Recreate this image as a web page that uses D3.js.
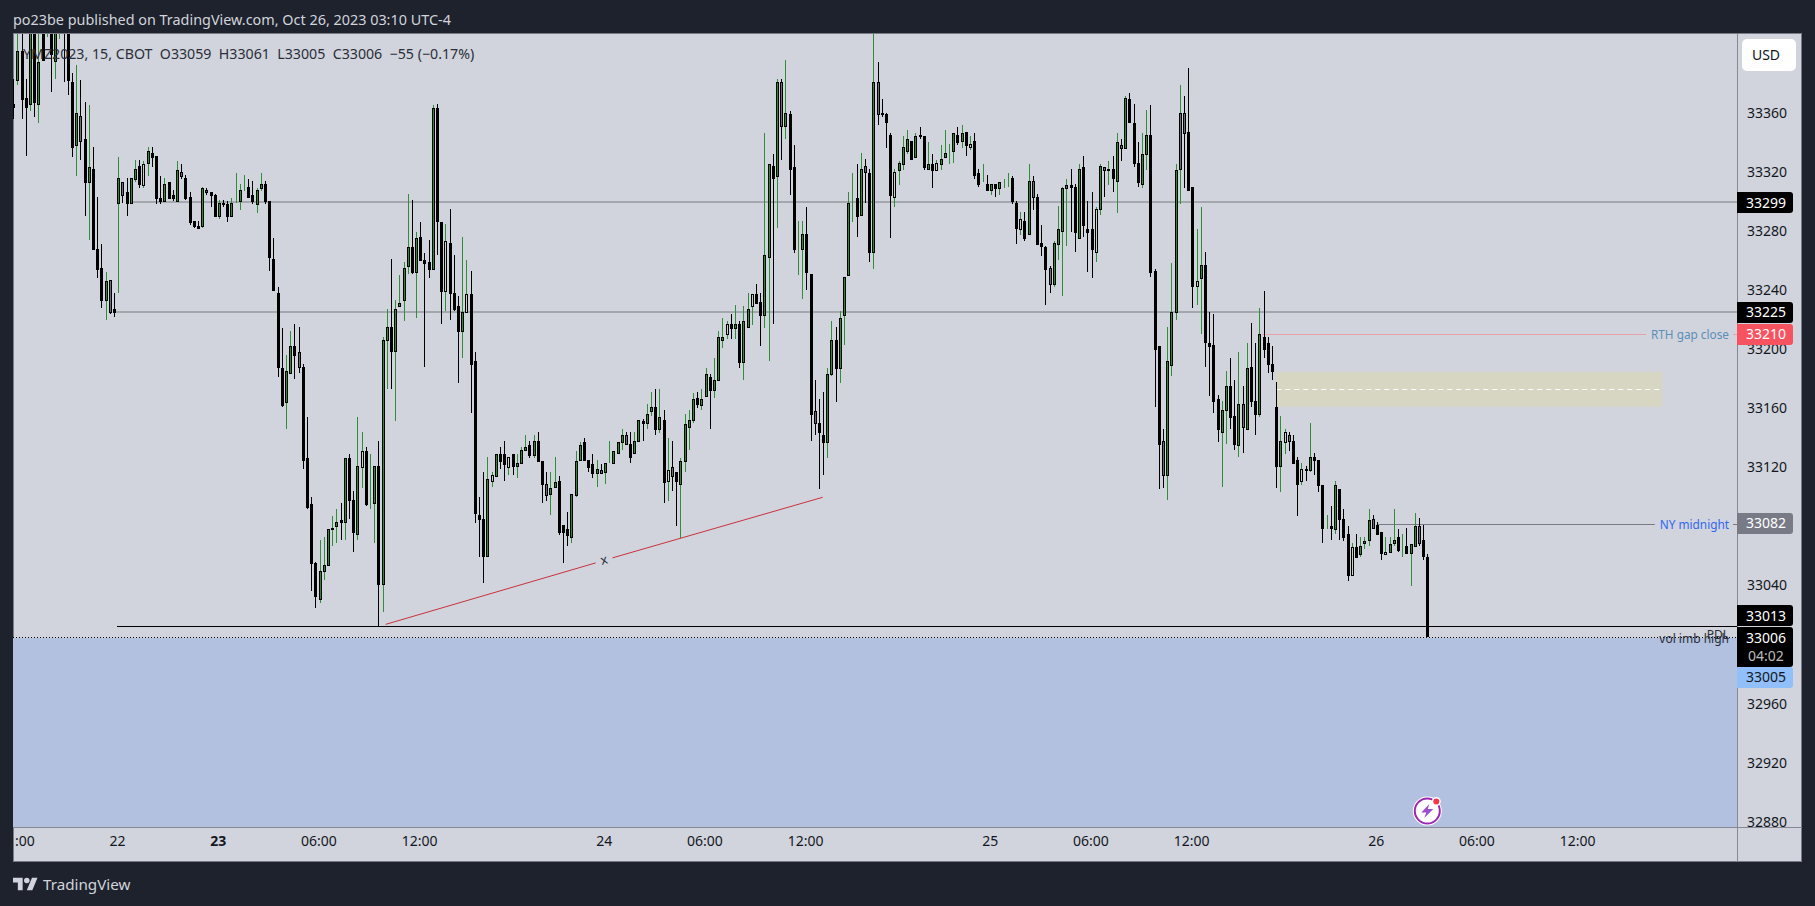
<!DOCTYPE html>
<html lang="en">
<head>
<meta charset="UTF-8">
<title>YMZ2023 15</title>
<script src="https://d3js.org/d3.v7.min.js"></script>
<style>
  html, body { margin: 0; padding: 0; background: #1e222d; overflow: hidden; }
  svg { display: block; font-family: "Noto Sans", sans-serif; }
  text { white-space: pre; }
</style>
</head>
<body>
<script>
// 15 minute bars, index 0 is the one cut by the left edge of the pane
const opens = [
33366,33382,33402,33370,33366,33425,33366,33430,33420,33425,
33395,33422,33440,33430,33381,33338,33358,33342,33313,33322,
33268,33255,33233,33247,33227,33299,33313,33306,33299,33315,
33324,33311,33326,33333,33331,33302,33300,33313,33304,33300,
33320,33316,33303,33287,33283,33283,33308,33306,33304,33290,
33299,33298,33290,33299,33300,33309,33310,33304,33298,33309,
33312,33300,33261,33238,33187,33164,33184,33202,33198,33188,
33126,33095,33055,33031,33050,33054,33078,33080,33084,33083,
33126,33098,33075,33120,33131,33097,33096,33121,33041,33206,
33215,33199,33229,33233,33256,33269,33252,33276,33260,33259,
33254,33363,33286,33239,33272,33238,33229,33212,33225,33237,
33192,33088,33085,33060,33111,33114,33129,33129,33120,33129,
33121,33123,33132,33135,33128,33138,33124,33109,33102,33107,
33111,33081,33078,33073,33101,33125,33137,33125,33122,33116,
33118,33117,33123,33123,33130,33137,33142,33136,33130,33138,
33151,33150,33158,33161,33146,33152,33111,33120,33117,33109,
33124,33147,33152,33167,33162,33168,33181,33172,33179,33206,
33210,33217,33214,33217,33191,33215,33229,33237,33232,33223,
33262,33324,33317,33381,33351,33359,33323,33269,33268,33278,
33251,33158,33150,33142,33137,33183,33206,33187,33223,33250,
33300,33302,33291,33324,33319,33266,33381,33360,33359,33345,
33303,33321,33325,33334,33341,33330,33345,33344,33322,33325,
33321,33325,33330,33334,33334,33345,33341,33347,33337,33341,
33319,33313,33312,33308,33312,33309,33313,33315,33316,33299,
33281,33287,33278,33314,33303,33272,33269,33255,33244,33271,
33280,33309,33311,33310,33275,33323,33281,33281,33266,33295,
33323,33321,33322,33314,33338,33336,33369,33353,33326,33312,
33332,33345,33253,33202,33138,33115,33189,33225,33322,33360,
33347,33310,33243,33248,33257,33204,33203,33166,33144,33159,
33175,33155,33135,33163,33146,33188,33165,33156,33208,33204,
33190,33161,33121,33137,33142,33138,33125,33111,33119,33118,
33127,33125,33108,33080,33080,33078,33105,33085,33075,33047,
33066,33061,33069,33071,33085,33081,33076,33061,33063,33069,
33073,33065,33067,33062,33067,33080,33071,33059];

const highs = [
33383,33425,33420,33383,33428,33430,33415,33435,33440,33432,
33435,33440,33445,33435,33387,33392,33382,33367,33365,33337,
33303,33271,33252,33247,33238,33330,33313,33316,33316,33328,
33328,33327,33337,33337,33331,33317,33316,33313,33308,33327,
33325,33318,33306,33287,33287,33310,33309,33306,33305,33301,
33301,33300,33302,33319,33312,33318,33315,33314,33309,33319,
33314,33300,33275,33242,33214,33196,33212,33217,33215,33190,
33154,33100,33056,33071,33073,33078,33087,33092,33096,33126,
33129,33104,33154,33144,33134,33129,33121,33138,33208,33227,
33261,33233,33250,33259,33305,33301,33279,33286,33265,33274,
33365,33366,33286,33285,33295,33264,33236,33276,33260,33253,
33198,33100,33117,33127,33117,33129,33134,33138,33127,33129,
33129,33134,33142,33138,33142,33144,33124,33117,33117,33127,
33114,33081,33090,33102,33131,33137,33140,33125,33129,33125,
33122,33123,33138,33131,33137,33146,33144,33144,33144,33152,
33153,33163,33171,33173,33173,33159,33140,33138,33117,33126,
33156,33159,33170,33171,33173,33187,33183,33194,33212,33221,
33219,33224,33230,33219,33229,33238,33237,33244,33238,33346,
33325,33332,33383,33383,33396,33361,33338,33287,33287,33296,
33251,33179,33166,33171,33187,33219,33215,33226,33249,33306,
33319,33325,33333,33329,33322,33415,33394,33369,33360,33346,
33322,33327,33344,33348,33341,33346,33350,33344,33340,33332,
33328,33338,33348,33339,33346,33350,33352,33347,33344,33346,
33322,33325,33318,33312,33312,33313,33315,33319,33317,33300,
33293,33293,33325,33317,33305,33284,33270,33256,33273,33297,
33310,33315,33322,33312,33325,33331,33300,33306,33296,33325,
33323,33327,33331,33346,33342,33371,33373,33366,33340,33346,
33362,33365,33254,33202,33146,33215,33258,33325,33379,33371,
33390,33310,33281,33296,33266,33225,33224,33169,33165,33185,
33194,33179,33198,33175,33204,33218,33204,33228,33239,33208,
33202,33178,33155,33146,33144,33142,33127,33123,33121,33150,
33130,33125,33108,33088,33094,33111,33105,33092,33080,33069,
33075,33073,33073,33092,33088,33083,33076,33073,33073,33092,
33078,33075,33079,33068,33089,33086,33081,33061];

const lows = [
33356,33379,33356,33331,33361,33357,33353,33395,33411,33374,
33383,33410,33381,33372,33330,33317,33328,33290,33274,33267,
33248,33228,33220,33224,33222,33238,33299,33290,33299,33313,
33309,33309,33317,33323,33298,33298,33300,33302,33300,33300,
33315,33301,33284,33282,33282,33282,33304,33296,33290,33288,
33296,33286,33290,33299,33294,33307,33303,33298,33292,33307,
33298,33253,33240,33181,33161,33146,33184,33180,33184,33119,
33092,33036,33025,33028,33044,33053,33067,33069,33071,33071,
33085,33063,33071,33106,33094,33092,33069,33012,33022,33173,
33173,33151,33229,33219,33251,33251,33221,33260,33188,33248,
33254,33264,33217,33226,33220,33226,33177,33194,33225,33157,
33082,33059,33042,33059,33107,33114,33119,33111,33115,33115,
33113,33123,33132,33126,33126,33124,33096,33097,33088,33107,
33074,33055,33067,33069,33100,33125,33125,33117,33113,33107,
33116,33109,33123,33122,33130,33132,33136,33123,33130,33138,
33138,33146,33155,33142,33143,33096,33097,33104,33080,33072,
33117,33132,33150,33160,33159,33168,33146,33167,33179,33201,
33207,33207,33207,33187,33179,33214,33216,33231,33202,33214,
33192,33217,33282,33328,33342,33304,33265,33250,33234,33240,
33138,33142,33105,33115,33126,33182,33164,33177,33203,33250,
33286,33276,33291,33299,33259,33254,33352,33357,33336,33275,
33296,33311,33321,33332,33329,33330,33342,33321,33321,33309,
33321,33321,33330,33325,33326,33338,33336,33331,33335,33315,
33310,33313,33307,33304,33303,33304,33309,33310,33298,33271,
33277,33273,33278,33294,33271,33263,33230,33238,33242,33260,
33236,33270,33279,33266,33275,33276,33252,33248,33259,33291,
33303,33311,33306,33292,33327,33336,33354,33323,33310,33309,
33321,33249,33161,33105,33106,33098,33182,33220,33298,33309,
33307,33228,33230,33210,33188,33168,33157,33137,33107,33136,
33146,33132,33127,33130,33145,33161,33142,33154,33194,33184,
33179,33106,33103,33129,33131,33123,33087,33108,33111,33117,
33115,33103,33069,33078,33071,33075,33071,33070,33043,33047,
33059,33059,33065,33067,33078,33074,33057,33061,33062,33067,
33063,33059,33061,33040,33067,33067,33057,33005];

const closes = [
33364,33402,33369,33364,33418,33367,33394,33396,33435,33400,
33425,33435,33418,33382,33337,33360,33341,33313,33323,33268,
33254,33233,33246,33225,33225,33316,33304,33299,33316,33322,
33312,33325,33334,33330,33302,33300,33312,33302,33302,33321,
33317,33302,33286,33283,33282,33309,33306,33304,33290,33299,
33298,33290,33299,33299,33308,33309,33303,33300,33308,33312,
33300,33262,33240,33188,33162,33185,33202,33196,33188,33125,
33093,33055,33033,33050,33054,33078,33079,33083,33083,33126,
33098,33076,33121,33131,33095,33097,33121,33041,33206,33215,
33199,33227,33231,33255,33269,33252,33275,33260,33258,33254,
33363,33287,33239,33273,33238,33227,33212,33225,33237,33190,
33089,33085,33060,33112,33115,33129,33124,33122,33127,33121,
33123,33132,33134,33128,33138,33124,33109,33101,33106,33110,
33076,33076,33074,33102,33124,33135,33125,33120,33116,33119,
33116,33123,33123,33131,33137,33142,33136,33127,33138,33152,
33150,33156,33161,33146,33154,33110,33118,33114,33111,33124,
33149,33152,33166,33163,33166,33183,33172,33179,33208,33208,
33217,33214,33217,33191,33219,33227,33237,33231,33223,33264,
33325,33316,33381,33351,33360,33322,33268,33269,33278,33252,
33156,33150,33144,33137,33183,33206,33187,33221,33249,33299,
33300,33290,33322,33320,33266,33381,33359,33359,33354,33304,
33320,33326,33337,33342,33329,33344,33344,33323,33325,33321,
33326,33329,33333,33334,33346,33340,33346,33338,33339,33318,
33312,33313,33308,33312,33309,33313,33313,33315,33300,33282,
33288,33275,33314,33303,33271,33270,33254,33244,33272,33281,
33309,33311,33310,33279,33322,33284,33279,33268,33295,33324,
33321,33322,33316,33340,33336,33370,33354,33326,33313,33332,
33345,33252,33200,33136,33115,33192,33225,33321,33360,33346,
33308,33243,33246,33257,33205,33202,33165,33146,33159,33175,
33154,33136,33163,33147,33187,33165,33156,33210,33200,33190,
33185,33121,33138,33144,33138,33123,33109,33119,33118,33127,
33125,33108,33079,33080,33079,33108,33085,33073,33047,33066,
33059,33067,33070,33084,33079,33075,33062,33063,33068,33071,
33064,33065,33062,33068,33080,33069,33060,33006];

// bars whose body is painted differently on the chart
const paleBars = [31,83,103,108,114,118,156,170,176,210,220,228,240,258,282,303,307,319,327];
const greyBars = [16,23,26,40,46,68,127,140,146,157,183,191,203,206,243,247,251,260,261,264,274,278,279,293,304,324,335];

// time axis
const timeTickBars = [1,25,49,73,97,141,165,189,233,257,281,325,349,373];
const timeTickLabels = ['18:00','22','23','06:00','12:00','24','06:00','12:00','25','06:00','12:00','26','06:00','12:00'];
const priceTicks = [33360,33320,33280,33240,33200,33160,33120,33080,33040,33000,32960,32920,32880];

// horizontal levels
const levelPrices = [33299.5,33225.4,33210,33081.7,33012.5];
const levelStartBars = [28,24,297.6,325,24.6];
const levelColors = ['#a5a7ae','#a5a7ae','#e9a0a8','#787b86','#000000'];
const levelWidths = [2,2,1,1,1];
const levelNames = ['','','RTH gap close','NY midnight',''];
const levelNameColors = ['','','#5a8fb8','#2f66f5',''];

// tags on the price scale, the last ones are pushed apart by the scale
const tagTexts = ['33299','33225','33210','33082','33013','33006','33005'];
const tagAnchors = [33299,33225,33210,33082,33019.5,33004.5,32978];
const tagColors = ['#000000','#000000','#f7525f','#787b86','#000000','#000000','#90bff9'];
const tagTextColors = ['#ffffff','#ffffff','#ffffff','#ffffff','#ffffff','#ffffff','#131722'];

// drawings
const lastPrice = 33006;
const zoneTop = 33184.5, zoneBottom = 33161, zoneMid = 33173;
const zoneBars = [301, 393];
const trendBars = [88.75, 138.8, 142.8, 192.9];
const trendPrices = [33013.7, 33055.3, 33058.7, 33099.7];

const width = 1815, height = 906;
const paneLeft = 13, paneRight = 1737, paneTop = 34, paneBottom = 827, frameRight = 1802, frameBottom = 862;
const uiFont = '"Noto Sans", sans-serif';

const x = d3.scaleLinear().domain([0, 337]).range([13.3, 1427.3]);
const y = d3.scaleLinear().domain([33360, 32880]).range([112.7, 821.9]);
const px = v => Math.round(x(v)) + 0.5;
const py = v => Math.round(y(v));

const svg = d3.select('body').append('svg').attr('width', width).attr('height', height);

const defs = svg.append('defs');
defs.append('clipPath').attr('id', 'pane').append('rect')
  .attr('x', paneLeft).attr('y', paneTop).attr('width', paneRight - paneLeft).attr('height', paneBottom - paneTop);
defs.append('clipPath').attr('id', 'priceClip').append('rect')
  .attr('x', paneRight).attr('y', paneTop).attr('width', frameRight - paneRight).attr('height', paneBottom - paneTop);
defs.append('clipPath').attr('id', 'timeClip').append('rect')
  .attr('x', paneLeft + 2).attr('y', paneBottom).attr('width', paneRight - paneLeft).attr('height', frameBottom - paneBottom);

// frame
svg.append('rect').attr('x', paneLeft + 0.5).attr('y', paneTop - 0.5)
  .attr('width', frameRight - paneLeft - 1).attr('height', frameBottom - paneTop)
  .attr('fill', '#d1d4dc').attr('stroke', '#787b86');

svg.append('text').attr('x', 13).attr('y', 25).attr('fill', '#d1d4dc').attr('font-size', 14.4)
  .text('po23be published on TradingView.com, Oct 26, 2023 03:10 UTC-4');

const pane = svg.append('g').attr('clip-path', 'url(#pane)');

// blue zone below the last price
pane.append('rect').attr('x', paneLeft).attr('width', paneRight - paneLeft)
  .attr('y', py(lastPrice) + 2).attr('height', paneBottom - y(lastPrice))
  .attr('fill', '#b2c1df');

// levels
const lv = levelPrices.map((p, i) => i);
const levelY = i => levelWidths[i] === 2 ? py(levelPrices[i]) : py(levelPrices[i]) + 0.5;
pane.selectAll('line.level').data(lv).join('line').attr('class', 'level')
  .attr('x1', i => x(levelStartBars[i])).attr('x2', paneRight)
  .attr('y1', levelY).attr('y2', levelY)
  .attr('stroke', i => levelColors[i]).attr('stroke-width', i => levelWidths[i])
  .attr('shape-rendering', 'crispEdges');

// yellow zone
pane.append('rect').attr('x', x(zoneBars[0])).attr('width', x(zoneBars[1]) - x(zoneBars[0]))
  .attr('y', y(zoneTop)).attr('height', y(zoneBottom) - y(zoneTop)).attr('fill', '#d6d6c2');
pane.append('line').attr('x1', x(zoneBars[0])).attr('x2', x(zoneBars[1]))
  .attr('y1', py(zoneMid) + 0.5).attr('y2', py(zoneMid) + 0.5)
  .attr('stroke', '#ffffff').attr('stroke-dasharray', '5 4');

// trend line, broken around its x label
[[0, 1], [2, 3]].forEach(s => {
  pane.append('line')
    .attr('x1', x(trendBars[s[0]])).attr('y1', y(trendPrices[s[0]]))
    .attr('x2', x(trendBars[s[1]])).attr('y2', y(trendPrices[s[1]]))
    .attr('stroke', '#c9323c').attr('stroke-width', 1);
});
pane.append('text')
  .attr('x', x(140.8)).attr('y', y(33057))
  .attr('dy', '0.3em').attr('text-anchor', 'middle').attr('font-size', 13).attr('fill', '#2a2e39')
  .attr('transform', `rotate(-15 ${x(140.8)} ${y(33057)})`).text('x');

// candles
const bars = svg.append('g').attr('clip-path', 'url(#pane)');
const idx = d3.range(opens.length);
const isUp = i => closes[i] >= opens[i];
const bodyFill = i => {
  if (paleBars.includes(i)) return '#c5d3bf';
  if (greyBars.includes(i)) return '#6a6d72';
  return isUp(i) ? '#24902c' : '#000000';
};

bars.selectAll('line.wick').data(idx).join('line').attr('class', 'wick')
  .attr('x1', px).attr('x2', px)
  .attr('y1', i => py(highs[i])).attr('y2', i => py(lows[i]))
  .attr('stroke', i => isUp(i) ? '#2f8f35' : '#000000')
  .attr('shape-rendering', 'crispEdges');

bars.selectAll('rect.body').data(idx).join('rect').attr('class', 'body')
  .attr('x', i => px(i) - 1).attr('width', 2)
  .attr('y', i => py(Math.max(opens[i], closes[i])) + 0.5)
  .attr('height', i => py(Math.min(opens[i], closes[i])) - py(Math.max(opens[i], closes[i])))
  .attr('fill', bodyFill).attr('stroke', '#000000')
  .attr('shape-rendering', 'crispEdges');

// last price dotted line
svg.append('line').attr('x1', paneLeft).attr('x2', paneRight)
  .attr('y1', py(lastPrice) + 1.5).attr('y2', py(lastPrice) + 1.5)
  .attr('stroke', '#000000').attr('stroke-dasharray', '1 2');

// names on the levels, the line is cut around them
levelNames.forEach((name, i) => {
  if (!name) return;
  const yy = py(levelPrices[i]) + 0.5;
  const gap = svg.append('rect').attr('y', yy - 1).attr('height', 2).attr('fill', '#d1d4dc');
  const t = svg.append('text').attr('x', 1729).attr('y', yy).attr('dy', '0.35em')
    .attr('text-anchor', 'end').attr('font-size', 11.8).attr('fill', levelNameColors[i]).text(name);
  const w = t.node().getComputedTextLength();
  gap.attr('x', 1729 - w - 5).attr('width', w + 9);
});
svg.append('text').attr('x', 1729).attr('y', 639).attr('dy', '0.35em').attr('text-anchor', 'end')
  .attr('font-size', 12).attr('fill', '#2a2e39').text('vol imb high');
svg.append('text').attr('x', 1729).attr('y', 635).attr('dy', '0.35em').attr('text-anchor', 'end')
  .attr('font-size', 12).attr('fill', '#2a2e39').text('PDL');

// legend
svg.append('text').attr('x', 23).attr('y', 59).attr('font-size', 14.2).attr('fill', '#2a2e39')
  .text('YMZ2023, 15, CBOT  O33059  H33061  L33005  C33006  \u221255 (\u22120.17%)');

// price axis
svg.append('line').attr('x1', paneRight + 0.5).attr('x2', paneRight + 0.5).attr('y1', paneTop).attr('y2', frameBottom)
  .attr('stroke', '#868993');
svg.append('line').attr('x1', paneLeft).attr('x2', frameRight).attr('y1', paneBottom + 0.5).attr('y2', paneBottom + 0.5)
  .attr('stroke', '#868993');

const priceAxis = d3.axisRight(y).tickValues(priceTicks).tickSize(0).tickPadding(10).tickFormat(d3.format('d'));
svg.append('g').attr('clip-path', 'url(#priceClip)')
  .append('g').attr('transform', `translate(${paneRight},0)`).call(priceAxis)
  .call(g => g.select('.domain').remove())
  .selectAll('text').attr('font-family', uiFont).attr('font-size', 14).attr('fill', '#131722');

const timeAxis = d3.axisBottom(x).tickValues(timeTickBars).tickSize(0).tickPadding(9)
  .tickFormat((d, i) => timeTickLabels[i]);
svg.append('g').attr('clip-path', 'url(#timeClip)')
  .append('g').attr('transform', `translate(-1.2,${paneBottom})`).call(timeAxis)
  .call(g => g.select('.domain').remove())
  .selectAll('text').attr('font-family', uiFont).attr('font-size', 14).attr('fill', '#131722')
  .attr('font-weight', (d, i) => timeTickLabels[i] === '23' ? 700 : 400);

// price tags
const tags = svg.append('g');
tagTexts.forEach((label, i) => {
  const c = y(tagAnchors[i]);
  const big = label === '33006';
  const h = big ? 40 : 21;
  const top = Math.round(c - 10.5);
  tags.append('path')
    .attr('d', `M${paneRight},${top}H1790a3,3 0 0 1 3,3V${top + h - 3}a3,3 0 0 1 -3,3H${paneRight}Z`)
    .attr('fill', tagColors[i]);
  tags.append('text').attr('x', 1766).attr('y', c).attr('dy', '0.35em').attr('text-anchor', 'middle')
    .attr('font-size', 14).attr('fill', tagTextColors[i]).text(label);
});
tags.append('text').attr('x', 1766).attr('y', y(tagAnchors[5]) + 18.5).attr('dy', '0.35em').attr('text-anchor', 'middle')
  .attr('font-size', 14).attr('fill', '#bdbdbd').text('04:02');

// USD button
svg.append('rect').attr('x', 1742).attr('y', 39).attr('width', 54).attr('height', 32).attr('rx', 5).attr('fill', '#ffffff');
svg.append('text').attr('x', 1766).attr('y', 55).attr('dy', '0.35em').attr('text-anchor', 'middle')
  .attr('font-size', 14).attr('fill', '#131722').text('USD');

// flash icon on the chart
const icon = svg.append('g').attr('transform', `translate(${x(337)},811)`);
icon.append('circle').attr('r', 14.5).attr('fill', '#ffffff');
icon.append('circle').attr('r', 12.5).attr('fill', 'none').attr('stroke', '#9c27b0').attr('stroke-width', 2);
icon.append('path').attr('d', 'M2,-7 L-6,1.5 L-1,1.5 L-3,7 L6,-2 L0.5,-2 Z').attr('fill', '#9c4dcc');
icon.append('circle').attr('cx', 9).attr('cy', -9.5).attr('r', 4.5).attr('fill', '#ffffff');
icon.append('circle').attr('cx', 9).attr('cy', -9.5).attr('r', 3).attr('fill', '#f23645');

// logo
const logo = svg.append('g').attr('transform', 'translate(13,875) scale(0.69)').attr('fill', '#d1d4dc');
logo.append('path').attr('d', 'M14 22H7V11H0V4h14v18zM28 22h-8l7.5-18h8L28 22z');
logo.append('circle').attr('cx', 20).attr('cy', 8).attr('r', 4);
svg.append('text').attr('x', 43).attr('y', 890).attr('font-size', 15.2).attr('fill', '#d1d4dc').text('TradingView');
</script>
</body>
</html>
